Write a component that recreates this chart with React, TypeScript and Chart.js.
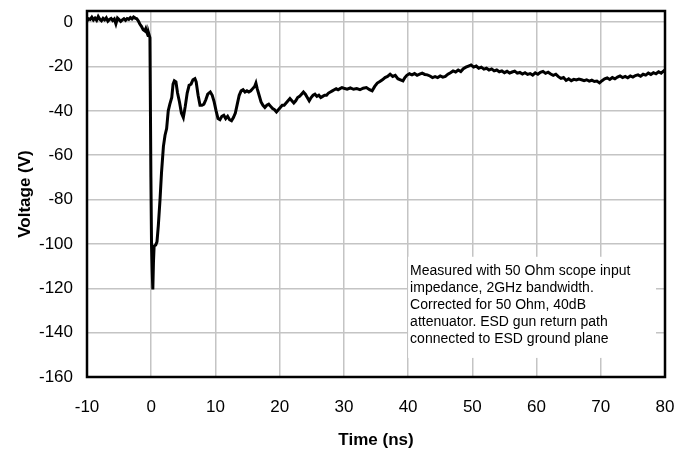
import React, { useEffect, useRef } from 'react';
import { Chart, registerables } from 'chart.js';

Chart.register(...registerables);

// Time (ns)
const time: number[] = [
  -10, -9.75, -9.5, -9.25, -9, -8.75, -8.5, -8.25, -8, -7.75, -7.5, -7.25, -7, -6.75, -6.5, -6.25,
  -6, -5.75, -5.5, -5.25, -5, -4.75, -4.5, -4.25, -4, -3.75, -3.5, -3.25, -3, -2.75, -2.5,
  -2.25, -2.0, -1.75, -1.5, -1.25, -1.0, -0.85, -0.7, -0.5, -0.35, -0.2, -0.05, 0.05, 0.15, 0.25,
  0.35, 0.45, 0.7, 0.9, 1.1, 1.37, 1.6, 1.9, 2.15, 2.4, 2.65, 2.9, 3.2, 3.4, 3.6, 3.85, 4.1, 4.4,
  4.7, 5.0, 5.3, 5.6, 5.9, 6.2, 6.5, 6.8, 7.0, 7.3, 7.6, 7.9, 8.2, 8.5, 8.8, 9.2, 9.5, 9.8, 10.1,
  10.4, 10.7, 11.0, 11.3, 11.6, 11.9, 12.2, 12.5, 12.8, 13.1, 13.4, 13.7, 14.0, 14.3, 14.6, 14.9,
  15.2, 15.5, 15.8, 16.1, 16.3, 16.5, 16.8, 17.1, 17.4, 17.7, 18.0, 18.3, 18.6, 18.9, 19.2, 19.5,
  19.8, 20.1, 20.4, 20.7, 21.0, 21.3, 21.6, 21.9, 22.2, 22.5, 22.8, 23.1, 23.4, 23.7, 24.0, 24.3,
  24.6, 24.9, 25.2, 25.5, 25.8, 26.1, 26.4, 26.7, 27.0, 27.3, 27.6, 27.9, 28.2, 28.5, 28.8, 29.1,
  29.4, 29.7, 30.0, 30.5, 31.0, 31.5, 32.0, 32.5, 33.0, 33.5, 34.0, 34.4, 34.8, 35.2, 35.6, 36.0,
  36.4, 36.8, 37.2, 37.6, 38.0, 38.4, 38.8, 39.2, 39.5, 39.8, 40.2, 40.6, 41.0, 41.4, 41.8, 42.2,
  42.6, 43.0, 43.4, 43.8, 44.2, 44.6, 45.0, 45.4, 45.8, 46.2, 46.6, 47.0, 47.4, 47.8, 48.2, 48.6,
  49.0, 49.4, 49.8, 50.2, 50.6, 51.0, 51.4, 51.8, 52.2, 52.6, 53.0, 53.4, 53.8, 54.2, 54.6, 55.0,
  55.4, 55.8, 56.2, 56.6, 57.0, 57.4, 57.8, 58.2, 58.6, 59.0, 59.4, 59.8, 60.2, 60.6, 61.0, 61.4,
  61.8, 62.2, 62.6, 63.0, 63.4, 63.8, 64.2, 64.6, 65.0, 65.4, 65.8, 66.2, 66.6, 67.0, 67.4, 67.8,
  68.2, 68.6, 69.0, 69.4, 69.8, 70.2, 70.6, 71.0, 71.4, 71.8, 72.2, 72.6, 73.0, 73.4, 73.8, 74.2,
  74.6, 75.0, 75.4, 75.8, 76.2, 76.6, 77.0, 77.4, 77.8, 78.2, 78.6, 79.0, 79.4, 79.8, 80.0,
];

// Voltage (V)
const voltage: number[] = [
  0.5, 1.5, 1.2, 2.2, 1.0, 1.8, 0.8, 2.5, 1.3, 0.6, 1.7, 1.0, 1.9, 0.4, 1.2, 1.6,
  0.7, 1.4, -0.8, 1.8, 1.1, 0.3, 1.0, 1.5, 0.8, 1.6, 1.2, 2.0, 1.4, 2.3, 1.8,
  1.5, 0.5, -1.0, -2.0, -3.5, -4.0, -3.0, -4.5, -6.0, -5.5, -7.0, -70, -101, -112, -120.5,
  -108, -101, -100.5, -99, -92, -80, -68, -56, -51, -48, -40, -37, -34, -28, -26.5, -27, -32, -36,
  -41, -43, -38, -32, -28.5, -28, -26, -25.5, -27, -33, -37.5, -37.5, -37, -35, -32.5, -31.5, -33, -36, -40,
  -43.5, -44, -42.5, -42, -43.5, -42.5, -44, -44.5, -43, -41, -37, -33, -31, -30.5, -31.5, -31,
  -31.5, -31, -30, -29, -27.5, -30, -33, -36, -37.5, -38.5, -37.5, -37, -38, -39, -39.5, -40.5,
  -39.5, -38.5, -37.5, -37.5, -36.5, -35.5, -34.5, -35.5, -36.5, -35.5, -34, -33.5, -32.5, -31.5, -32.5, -34,
  -35.5, -34, -33, -32.5, -33.5, -33, -34, -33.5, -33, -33, -32, -31.5, -31, -30.5, -30, -30.5,
  -30, -29.5, -29.8, -30.2, -29.7, -30.3, -30, -30.5, -29.8, -29.5, -30.5, -31, -29, -27.5, -26.8, -26,
  -25, -24.5, -23.5, -24.5, -24, -25.5, -26, -26.5, -25, -24, -23.3, -23.8, -23.2, -24, -23.5, -23,
  -23.6, -23.8, -24.3, -25, -24.6, -25, -24.3, -24.8, -24.5, -23.5, -22.8, -22, -22.5, -21.6, -22.3, -21,
  -20.3, -19.8, -19.3, -20.3, -19.8, -20.8, -20.3, -21.2, -20.8, -21.6, -21.1, -22, -21.6, -22.4, -22, -22.8,
  -22.2, -23, -22.5, -22.1, -23, -22.7, -23.4, -22.8, -23.6, -23.2, -23.9, -22.9, -23.5, -22.6, -22.2, -23.1,
  -22.6, -23.4, -24, -23.5, -24.6, -25.4, -25, -26.3, -25.6, -26.4, -25.8, -26.1, -25.7, -26, -26.4, -26,
  -26.6, -26.2, -26.8, -26.6, -27.4, -26.4, -25.6, -25.2, -25.9, -25, -25.6, -24.8, -24.3, -25, -24.5, -25.1,
  -24.3, -24.8, -24.1, -23.8, -24.4, -23.5, -23.9, -23, -23.6, -22.8, -23.3, -22.4, -23, -22, -22.5,
];

const xTicks: number[] = [-10, 0, 10, 20, 30, 40, 50, 60, 70, 80];
const yTicks: number[] = [-160, -140, -120, -100, -80, -60, -40, -20, 0];

const noteLines: string[] = [
  'Measured with 50 Ohm scope input',
  'impedance, 2GHz bandwidth.',
  'Corrected for 50 Ohm, 40dB',
  'attenuator. ESD gun return path',
  'connected to ESD ground plane',
];
// note box corners in data units
const noteBox = { t0: 40, t1: 78.6, vTop: -105.8, vBottom: -151.4 };

const FONT = '"Liberation Sans", Arial, Helvetica, sans-serif';

const notePlugin = {
  id: 'noteBox',
  beforeDatasetsDraw(chart: any) {
    const { ctx, scales } = chart;
    const l = scales.x.getPixelForValue(noteBox.t0);
    const r = scales.x.getPixelForValue(noteBox.t1);
    const t = scales.y.getPixelForValue(noteBox.vTop);
    const b = scales.y.getPixelForValue(noteBox.vBottom);
    ctx.save();
    ctx.fillStyle = '#ffffff';
    ctx.fillRect(l, t, r - l, b - t);
    ctx.fillStyle = '#000000';
    ctx.font = `14px ${FONT}`;
    ctx.textBaseline = 'middle';
    ctx.textAlign = 'left';
    noteLines.forEach((s, i) => ctx.fillText(s, l + 2, t + 14 + i * 17.1));
    ctx.restore();
  },
};

const framePlugin = {
  id: 'frame',
  afterDatasetsDraw(chart: any) {
    const { ctx, chartArea } = chart;
    ctx.save();
    ctx.strokeStyle = '#000000';
    ctx.lineWidth = 2.5;
    ctx.strokeRect(chartArea.left, chartArea.top, chartArea.right - chartArea.left, chartArea.bottom - chartArea.top);
    ctx.restore();
  },
};

const zeroPad = (scale: any) => {
  scale.paddingTop = 0;
  scale.paddingBottom = 0;
  scale.paddingLeft = 0;
  scale.paddingRight = 0;
};

export default function App() {
  const ref = useRef<HTMLCanvasElement | null>(null);

  useEffect(() => {
    if (!ref.current) return;
    const chart = new Chart(ref.current, {
      type: 'line',
      data: {
        datasets: [
          {
            data: time.map((t, i) => ({ x: t, y: voltage[i] })),
            borderColor: '#000000',
            borderWidth: 3,
            pointRadius: 0,
            tension: 0,
            fill: false,
          },
        ],
      },
      options: {
        animation: false,
        responsive: false,
        maintainAspectRatio: false,
        layout: { padding: { left: 0, top: 11, right: 26, bottom: 0 } },
        plugins: { legend: { display: false }, tooltip: { enabled: false } },
        scales: {
          x: {
            type: 'linear',
            min: -10,
            max: 80,
            afterBuildTicks: (scale: any) => {
              scale.ticks = xTicks.map((v) => ({ value: v }));
            },
            afterFit: (scale: any) => {
              scale.height = 74;
              zeroPad(scale);
            },
            grid: { color: '#c4c4c4', lineWidth: 1.5, drawTicks: false },
            border: { display: false },
            ticks: {
              color: '#000000',
              padding: 20,
              font: { family: FONT, size: 17 },
              maxRotation: 0,
            },
            title: {
              display: true,
              text: 'Time (ns)',
              color: '#000000',
              font: { family: FONT, size: 17, weight: 'bold' },
              padding: { top: 0, bottom: 0 },
            },
          },
          y: {
            type: 'linear',
            min: -160,
            max: 5,
            afterBuildTicks: (scale: any) => {
              scale.ticks = yTicks.map((v) => ({ value: v }));
            },
            afterFit: (scale: any) => {
              scale.width = 87;
              zeroPad(scale);
            },
            grid: { color: '#c4c4c4', lineWidth: 1.5, drawTicks: false },
            border: { display: false },
            ticks: {
              color: '#000000',
              padding: 14,
              font: { family: FONT, size: 17 },
            },
            title: {
              display: true,
              text: 'Voltage (V)',
              color: '#000000',
              font: { family: FONT, size: 17, weight: 'bold' },
              padding: { top: 15, bottom: 0 },
            },
          },
        },
      },
      plugins: [notePlugin, framePlugin],
    });
    return () => chart.destroy();
  }, []);

  return (
    <div style={{ position: 'absolute', left: 0, top: 0, width: 691, height: 451, background: '#ffffff' }}>
      <canvas ref={ref} width={691} height={451} />
    </div>
  );
}
